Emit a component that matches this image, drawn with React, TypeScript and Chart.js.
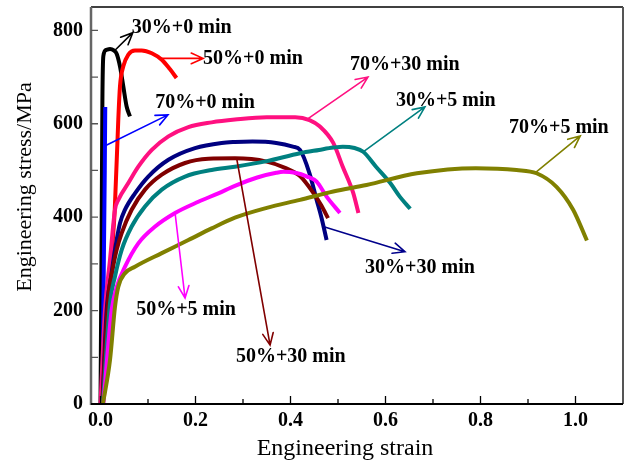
import React, { useEffect, useRef } from "react";
import { Chart, registerables } from "chart.js";

Chart.register(...registerables);

// ---------- data (engineering strain / engineering stress, MPa) ----------
const black30_0_x = [0, 0.002, 0.004, 0.006, 0.012, 0.02, 0.028, 0.034, 0.041, 0.048, 0.055, 0.062];
const black30_0_y = [0, 300, 650, 745, 758, 760, 757, 750, 723, 680, 637, 616];

const red50_0_x = [0.003, 0.012, 0.022, 0.03, 0.0375, 0.041, 0.048, 0.0586, 0.0726, 0.0867, 0.108, 0.129, 0.146, 0.16];
const red50_0_y = [0, 150, 300, 416, 610, 680, 723, 748, 757, 757, 751, 737, 717, 698];

const blue70_0_x = [0.004, 0.006, 0.009, 0.01];
const blue70_0_y = [0, 200, 500, 636];

const pink70_30_x = [0.0, 0.0095, 0.02, 0.0305, 0.0375, 0.0586, 0.0796, 0.108, 0.143, 0.185, 0.234, 0.283, 0.35, 0.41, 0.44, 0.462, 0.49, 0.51, 0.532, 0.543];
const pink70_30_y = [0, 201, 309, 416, 437, 473, 508, 544, 573, 593, 603, 609, 614, 614, 608, 594, 559, 508, 452, 409];

const navy30_30_x = [0.004, 0.013, 0.022, 0.0305, 0.041, 0.0516, 0.0726, 0.1006, 0.143, 0.199, 0.255, 0.283, 0.32, 0.37, 0.405, 0.42, 0.44, 0.455, 0.465, 0.476];
const navy30_30_y = [0, 201, 270, 330, 387, 416, 451, 487, 523, 548, 559, 561, 562, 559, 551, 544, 494, 437, 400, 351];

const maroon50_30_x = [0.004, 0.0165, 0.025, 0.034, 0.0446, 0.0656, 0.0937, 0.129, 0.178, 0.227, 0.283, 0.35, 0.39, 0.42, 0.448, 0.465, 0.479];
const maroon50_30_y = [0, 230, 285, 330, 366, 416, 459, 491, 516, 525, 526, 519, 505, 488, 452, 425, 398];

const teal30_5_x = [0.005, 0.02, 0.0305, 0.0446, 0.0656, 0.0937, 0.129, 0.178, 0.234, 0.283, 0.35, 0.42, 0.46, 0.49, 0.51, 0.535, 0.553, 0.58, 0.61, 0.63, 0.652];
const teal30_5_y = [0, 216, 273, 330, 380, 423, 459, 487, 501, 508, 520, 537, 544, 549, 551, 548, 540, 508, 473, 444, 418];

const magenta50_5_x = [0.006, 0.0235, 0.034, 0.0516, 0.0796, 0.115, 0.157, 0.206, 0.248, 0.283, 0.33, 0.37, 0.385, 0.41, 0.435, 0.455, 0.476, 0.504];
const magenta50_5_y = [0, 201, 250, 294, 344, 380, 409, 433, 451, 467, 485, 495, 497, 495, 487, 476, 444, 409];

const olive70_5_x = [0.005, 0.02, 0.0305, 0.0375, 0.0516, 0.0726, 0.129, 0.185, 0.234, 0.283, 0.35, 0.42, 0.49, 0.56, 0.666, 0.79, 0.876, 0.918, 0.96, 0.995, 1.024];
const olive70_5_y = [0, 94, 208, 251, 280, 294, 323, 351, 376, 399, 420, 437, 455, 469, 494, 505, 501, 494, 465, 416, 350];

// ---------- annotations (labels + arrows, in data units) ----------
const annLabels = ["30%+0 min", "50%+0 min", "70%+0 min", "70%+30 min", "30%+5 min", "70%+5 min", "30%+30 min", "50%+5 min", "50%+30 min"];
const annColors = ["#000000", "#ff0000", "#0000ff", "#ff1080", "#008080", "#808000", "#00008b", "#ff00ff", "#800000"];
const annFromX = [0.031, 0.125, 0.01, 0.437, 0.553, 0.915, 0.472, 0.157, 0.287];
const annFromY = [758, 740, 553, 611, 540, 495, 379, 409, 524];
const annToX = [0.068, 0.216, 0.142, 0.563, 0.683, 1.01, 0.641, 0.178, 0.357];
const annToY = [795, 740, 619, 700, 636, 574, 326, 227, 126];
const annTextX = [0.066, 0.216, 0.115, 0.525, 0.622, 0.86, 0.557, 0.075, 0.285];
const annTextY = [806, 739, 645, 726, 649, 591, 291, 201, 101];

const xMin = -0.02, xMax = 1.1, yMin = 0, yMax = 850;
const xMajor = [0, 0.2, 0.4, 0.6, 0.8, 1.0];
const xMinor = [0.1, 0.3, 0.5, 0.7, 0.9];
const yTicksAll = [100, 200, 300, 400, 500, 600, 700, 800];

const SERIF = "'Times New Roman', 'Liberation Serif', serif";

function pts(xs: number[], ys: number[]) {
  return xs.map((v, i) => ({ x: v, y: ys[i] }));
}

const series = [
  { d: pts(olive70_5_x, olive70_5_y), c: "#808000" },
  { d: pts(magenta50_5_x, magenta50_5_y), c: "#ff00ff" },
  { d: pts(teal30_5_x, teal30_5_y), c: "#008080" },
  { d: pts(maroon50_30_x, maroon50_30_y), c: "#800000" },
  { d: pts(navy30_30_x, navy30_30_y), c: "#000080" },
  { d: pts(pink70_30_x, pink70_30_y), c: "#ff1080" },
  { d: pts(blue70_0_x, blue70_0_y), c: "#0000ff", straight: true },
  { d: pts(red50_0_x, red50_0_y), c: "#ff0000" },
  { d: pts(black30_0_x, black30_0_y), c: "#000000" },
];

const decorPlugin = {
  id: "decor",
  afterDatasetsDraw(chart: any) {
    const { ctx, chartArea: a } = chart;
    const xs = chart.scales.x;
    const ys = chart.scales.y;
    ctx.save();
    // arrows + labels
    for (let i = 0; i < annLabels.length; i++) {
      const x0 = xs.getPixelForValue(annFromX[i]);
      const y0 = ys.getPixelForValue(annFromY[i]);
      const x1 = xs.getPixelForValue(annToX[i]);
      const y1 = ys.getPixelForValue(annToY[i]);
      ctx.strokeStyle = annColors[i];
      ctx.lineWidth = 1.6;
      ctx.lineCap = "round";
      ctx.beginPath();
      ctx.moveTo(x0, y0);
      ctx.lineTo(x1, y1);
      const ang = Math.atan2(y1 - y0, x1 - x0);
      const hl = 13, ha = 0.42;
      ctx.moveTo(x1 - hl * Math.cos(ang - ha), y1 - hl * Math.sin(ang - ha));
      ctx.lineTo(x1, y1);
      ctx.lineTo(x1 - hl * Math.cos(ang + ha), y1 - hl * Math.sin(ang + ha));
      ctx.stroke();
      ctx.fillStyle = "#000";
      ctx.font = `bold 20px ${SERIF}`;
      ctx.textAlign = "left";
      ctx.textBaseline = "middle";
      ctx.fillText(annLabels[i], xs.getPixelForValue(annTextX[i]), ys.getPixelForValue(annTextY[i]));
    }
    // frame
    ctx.lineCap = "butt";
    ctx.strokeStyle = "#000";
    ctx.lineWidth = 1.5;
    ctx.beginPath();
    ctx.moveTo(a.left, a.top);
    ctx.lineTo(a.right, a.top);
    ctx.stroke();
    ctx.strokeStyle = "#555";
    ctx.lineWidth = 2;
    ctx.beginPath();
    ctx.moveTo(a.right, a.top);
    ctx.lineTo(a.right, a.bottom);
    ctx.stroke();
    ctx.strokeStyle = "#666";
    ctx.lineWidth = 2.5;
    ctx.beginPath();
    ctx.moveTo(a.left, a.top);
    ctx.lineTo(a.left, a.bottom + 1);
    ctx.stroke();
    ctx.strokeStyle = "#000";
    ctx.lineWidth = 2;
    ctx.beginPath();
    ctx.moveTo(a.left, a.bottom);
    ctx.lineTo(a.right, a.bottom);
    ctx.stroke();
    // ticks (inside)
    ctx.lineWidth = 1.3;
    ctx.strokeStyle = "#000";
    ctx.beginPath();
    xMajor.forEach((v) => {
      const p = xs.getPixelForValue(v);
      ctx.moveTo(p, a.bottom);
      ctx.lineTo(p, a.bottom - 8);
    });
    xMinor.forEach((v) => {
      const p = xs.getPixelForValue(v);
      ctx.moveTo(p, a.bottom);
      ctx.lineTo(p, a.bottom - 5);
    });
    ctx.stroke();
    ctx.strokeStyle = "#555";
    ctx.beginPath();
    yTicksAll.forEach((v) => {
      const p = ys.getPixelForValue(v);
      ctx.moveTo(a.left, p);
      ctx.lineTo(a.left + 7, p);
    });
    ctx.stroke();
    ctx.restore();
  },
  afterDraw(chart: any) {
    const { ctx, chartArea: a } = chart;
    ctx.save();
    ctx.fillStyle = "#000";
    ctx.font = `24px ${SERIF}`;
    ctx.textAlign = "center";
    ctx.textBaseline = "alphabetic";
    ctx.fillText("Engineering strain", a.left + 254, 455);
    ctx.translate(31, 187);
    ctx.rotate(-Math.PI / 2);
    ctx.font = `22px ${SERIF}`;
    ctx.fillText("Engineering stress/MPa", 0, 0);
    ctx.restore();
  },
};

export default function App() {
  const ref = useRef<HTMLCanvasElement | null>(null);
  useEffect(() => {
    if (!ref.current) return;
    const chart = new Chart(ref.current, {
      type: "line",
      data: {
        datasets: series.map((s: any) => ({
          data: s.d,
          borderColor: s.c,
          backgroundColor: s.c,
          borderWidth: 4,
          pointRadius: 0,
          tension: s.straight ? 0 : 0.4,
          cubicInterpolationMode: s.straight ? "default" : "monotone",
          fill: false,
        })),
      },
      options: {
        animation: false,
        responsive: true,
        maintainAspectRatio: false,
        layout: { padding: { top: 7, right: 3, left: 0, bottom: 0 } },
        plugins: { legend: { display: false }, tooltip: { enabled: false } },
        scales: {
          x: {
            type: "linear",
            min: xMin,
            max: xMax,
            grid: { display: false, drawTicks: false },
            border: { display: false },
            ticks: {
              stepSize: 0.2,
              includeBounds: false,
              padding: 5,
              color: "#000",
              font: { family: SERIF, size: 20, weight: "bold" },
              callback: (v: any) => Number(v).toFixed(1),
            },
            afterFit: (ax: any) => {
              ax.height = 59;
              ax.paddingLeft = 0;
              ax.paddingRight = 0;
            },
          },
          y: {
            type: "linear",
            min: yMin,
            max: yMax,
            grid: { display: false, drawTicks: false },
            border: { display: false },
            ticks: {
              stepSize: 200,
              includeBounds: false,
              padding: 8,
              color: "#000",
              font: { family: SERIF, size: 20, weight: "bold" },
            },
            afterFit: (ax: any) => {
              ax.width = 91;
              ax.paddingTop = 0;
              ax.paddingBottom = 0;
            },
          },
        },
      },
      plugins: [decorPlugin],
    } as any);
    return () => chart.destroy();
  }, []);
  return (
    <div style={{ position: "fixed", left: 0, top: 0, width: 626, height: 463, background: "#fff" }}>
      <canvas ref={ref} />
    </div>
  );
}
